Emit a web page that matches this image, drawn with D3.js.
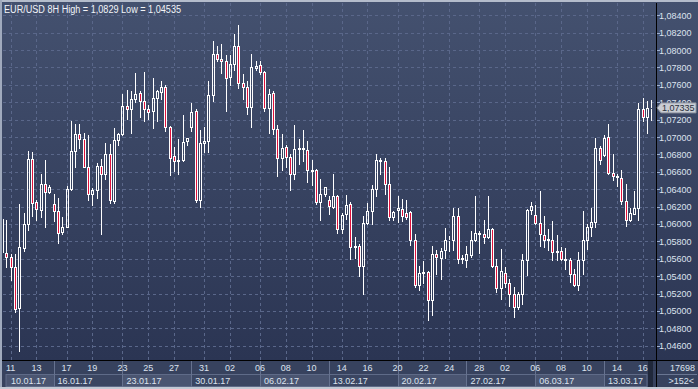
<!DOCTYPE html>
<html>
<head>
<meta charset="utf-8">
<script src="https://cdn.jsdelivr.net/npm/d3@7"></script>
<style>
body { margin: 0; background: #2f3a57; }
svg { display: block; font-family: "Liberation Sans", Arial, sans-serif; }
</style>
</head>
<body>
<script>
/*
EUR/USD 8H candles, 10.01.17 - 16.03.17
*/
var opens = [
  1.0568, 1.0567, 1.0562, 1.0550, 1.0503, 1.0572, 1.0600, 1.0675, 1.0625, 1.0616, 1.0646, 1.0637,
  1.0623, 1.0615, 1.0591, 1.0597, 1.0640, 1.0684, 1.0704, 1.0698, 1.0666, 1.0635, 1.0639, 1.0667, 1.0658, 1.0681, 1.0626, 1.0697,
  1.0703, 1.0736, 1.0732, 1.0744, 1.0751, 1.0742, 1.0732, 1.0730, 1.0745, 1.0752, 1.0757, 1.0712, 1.0678, 1.0673, 1.0674, 1.0695,
  1.0711, 1.0730, 1.0628, 1.0693, 1.0696, 1.0748, 1.0795, 1.0790, 1.0787, 1.0769, 1.0784, 1.0805, 1.0762, 1.0758, 1.0735, 1.0779,
  1.0783, 1.0775, 1.0733, 1.0751, 1.0709, 1.0676, 1.0688, 1.0677, 1.0658, 1.0686, 1.0687, 1.0685, 1.0662, 1.0662, 1.0625, 1.0635,
  1.0628, 1.0620, 1.0632, 1.0594, 1.0611, 1.0623, 1.0574, 1.0575, 1.0552, 1.0601, 1.0615, 1.0640, 1.0674, 1.0673, 1.0646, 1.0608,
  1.0616, 1.0617, 1.0613, 1.0614, 1.0581, 1.0530, 1.0544, 1.0545, 1.0512, 1.0566, 1.0561, 1.0570, 1.0581, 1.0582, 1.0609, 1.0560,
  1.0559, 1.0564, 1.0581, 1.0588, 1.0588, 1.0585, 1.0594, 1.0552, 1.0526, 1.0544, 1.0532, 1.0519, 1.0505, 1.0519, 1.0558, 1.0616,
  1.0610, 1.0601, 1.0587, 1.0582, 1.0582, 1.0568, 1.0569, 1.0560, 1.0558, 1.0543, 1.0530, 1.0558, 1.0582, 1.0596, 1.0602, 1.0687,
  1.0679, 1.0700, 1.0659, 1.0655, 1.0653, 1.0626, 1.0605, 1.0612, 1.0618, 1.0732, 1.0723, 1.0733
];
var highs = [
  1.0612, 1.0605, 1.0566, 1.0566, 1.0623, 1.0613, 1.0684, 1.0683, 1.0628, 1.0658, 1.0674, 1.0645,
  1.0635, 1.0630, 1.0608, 1.0644, 1.0719, 1.0715, 1.0715, 1.0705, 1.0702, 1.0641, 1.0670, 1.0675, 1.0693, 1.0692, 1.0710, 1.0705,
  1.0750, 1.0754, 1.0753, 1.0774, 1.0753, 1.0775, 1.0737, 1.0768, 1.0754, 1.0765, 1.0760, 1.0713, 1.0688, 1.0698, 1.0725, 1.0699,
  1.0739, 1.0732, 1.0708, 1.0712, 1.0765, 1.0811, 1.0805, 1.0807, 1.0794, 1.0794, 1.0819, 1.0829, 1.0773, 1.0765, 1.0796, 1.0787,
  1.0788, 1.0776, 1.0755, 1.0753, 1.0714, 1.0703, 1.0691, 1.0681, 1.0714, 1.0698, 1.0708, 1.0696, 1.0674, 1.0663, 1.0652, 1.0643,
  1.0632, 1.0658, 1.0633, 1.0613, 1.0633, 1.0625, 1.0585, 1.0577, 1.0609, 1.0624, 1.0645, 1.0680, 1.0676, 1.0676, 1.0666, 1.0615,
  1.0632, 1.0629, 1.0628, 1.0615, 1.0588, 1.0552, 1.0557, 1.0546, 1.0575, 1.0570, 1.0572, 1.0595, 1.0586, 1.0618, 1.0618, 1.0564,
  1.0575, 1.0592, 1.0632, 1.0592, 1.0605, 1.0632, 1.0595, 1.0560, 1.0571, 1.0550, 1.0537, 1.0527, 1.0522, 1.0565, 1.0617, 1.0625,
  1.0622, 1.0638, 1.0609, 1.0594, 1.0603, 1.0587, 1.0573, 1.0572, 1.0561, 1.0548, 1.0568, 1.0615, 1.0600, 1.0618, 1.0699, 1.0690,
  1.0702, 1.0715, 1.0680, 1.0658, 1.0662, 1.0646, 1.0618, 1.0638, 1.0739, 1.0745, 1.0742, 1.0743
];
var lows = [
  1.0563, 1.0551, 1.0535, 1.0499, 1.04535, 1.0569, 1.0593, 1.0609, 1.0604, 1.0608, 1.0596, 1.0636,
  1.0603, 1.0578, 1.0588, 1.0596, 1.0639, 1.0665, 1.0687, 1.0665, 1.0628, 1.0622, 1.0630, 1.0588, 1.0652, 1.0624, 1.0624, 1.0691,
  1.0702, 1.0721, 1.0705, 1.0740, 1.0723, 1.0719, 1.0721, 1.0710, 1.0719, 1.0744, 1.0707, 1.0656, 1.0661, 1.0657, 1.0673, 1.0691,
  1.0707, 1.0625, 1.0619, 1.0683, 1.0683, 1.0741, 1.0787, 1.0774, 1.0730, 1.0760, 1.0777, 1.0756, 1.0744, 1.0726, 1.0711, 1.0777,
  1.0773, 1.0730, 1.0705, 1.0703, 1.0655, 1.0662, 1.0666, 1.0639, 1.0652, 1.0669, 1.0672, 1.0648, 1.0645, 1.0623, 1.0605, 1.0632,
  1.0612, 1.0618, 1.0590, 1.0590, 1.0606, 1.0560, 1.0561, 1.0540, 1.0519, 1.0600, 1.0600, 1.0632, 1.0658, 1.0635, 1.0605, 1.0605,
  1.0602, 1.0603, 1.0606, 1.0576, 1.0528, 1.0524, 1.0532, 1.0490, 1.0495, 1.0543, 1.0537, 1.0561, 1.0569, 1.0570, 1.0555, 1.0555,
  1.0551, 1.0562, 1.0580, 1.0567, 1.0578, 1.0584, 1.0550, 1.0522, 1.0514, 1.0528, 1.0506, 1.0493, 1.0502, 1.0508, 1.0541, 1.0612,
  1.0600, 1.0575, 1.0574, 1.0570, 1.0558, 1.0559, 1.0558, 1.0548, 1.0533, 1.0529, 1.0524, 1.0543, 1.0571, 1.0586, 1.0597, 1.0669,
  1.0678, 1.0658, 1.0651, 1.0644, 1.0623, 1.0598, 1.0603, 1.0611, 1.0605, 1.0719, 1.0705, 1.0720
];
var closes = [
  1.0606, 1.0562, 1.0550, 1.0502, 1.0573, 1.0600, 1.0675, 1.0624, 1.0617, 1.0646, 1.0637, 1.0642,
  1.0615, 1.0590, 1.0597, 1.0640, 1.0684, 1.0704, 1.0698, 1.0666, 1.0635, 1.0639, 1.0667, 1.0658, 1.0681, 1.0627, 1.0697, 1.0703,
  1.0736, 1.0732, 1.0744, 1.0750, 1.0741, 1.0732, 1.0729, 1.0745, 1.0753, 1.0757, 1.0712, 1.0676, 1.0673, 1.0674, 1.0694, 1.0699,
  1.0729, 1.0628, 1.0693, 1.0696, 1.0748, 1.0796, 1.0790, 1.0787, 1.0768, 1.0784, 1.0805, 1.0762, 1.0758, 1.0735, 1.0780, 1.0782,
  1.0775, 1.0733, 1.0750, 1.0709, 1.0676, 1.0687, 1.0677, 1.0658, 1.0686, 1.0687, 1.0686, 1.0662, 1.0661, 1.0625, 1.0635, 1.0642,
  1.0621, 1.0632, 1.0594, 1.0610, 1.0622, 1.0574, 1.0575, 1.0552, 1.0601, 1.0615, 1.0640, 1.0674, 1.0673, 1.0646, 1.0608, 1.0614,
  1.0618, 1.0609, 1.0608, 1.0581, 1.0530, 1.0544, 1.0545, 1.0512, 1.0566, 1.0562, 1.0569, 1.0582, 1.0582, 1.0609, 1.0560, 1.0561,
  1.0566, 1.0582, 1.0590, 1.0590, 1.0585, 1.0594, 1.0552, 1.0526, 1.0546, 1.0532, 1.0519, 1.0505, 1.0519, 1.0558, 1.0616, 1.0621,
  1.0601, 1.0588, 1.0582, 1.0583, 1.0568, 1.0569, 1.0560, 1.0559, 1.0543, 1.0530, 1.0558, 1.0582, 1.0596, 1.0602, 1.0687, 1.0674,
  1.0699, 1.0659, 1.0655, 1.0654, 1.0626, 1.0604, 1.0613, 1.0618, 1.0732, 1.0723, 1.0733, 1.07335
];

// x axis: day labels (bar index where the day starts) and week labels
var dayLabels = ["11", "13", "17", "19", "23", "25", "27", "31", "02", "06", "08", "10",
                 "14", "16", "20", "22", "24", "28", "02", "06", "08", "10", "14", "16"];
var dayBars = [2, 8, 15, 21, 28, 34, 40, 47, 53, 60, 66, 72,
               79, 85, 92, 98, 104, 111, 117, 124, 130, 136, 143, 149];
var weekLabels = ["10.01.17", "16.01.17", "23.01.17", "30.01.17", "06.02.17",
                  "13.02.17", "20.02.17", "27.02.17", "06.03.17", "13.03.17"];
var weekBars = [-1, 12, 28, 44, 60, 76, 92, 108, 124, 140];

var yTicks = [1.046, 1.048, 1.050, 1.052, 1.054, 1.056, 1.058, 1.060, 1.062, 1.064,
              1.066, 1.068, 1.070, 1.072, 1.074, 1.076, 1.078, 1.080, 1.082, 1.084];

var title = "EUR/USD 8H High = 1,0829 Low = 1,04535";
var barCount = "17698";
var visibleBars = ">152<";

var width = 698,
    height = 389;
var plotLeft = 3, plotTop = 3, plotRight = 656, plotBottom = 360;

var svg = d3.select("body").append("svg")
    .attr("width", width)
    .attr("height", height);

var defs = svg.append("defs");
var grad = defs.append("linearGradient")
    .attr("id", "bg")
    .attr("x1", 0).attr("y1", 0).attr("x2", 0).attr("y2", 1);
grad.append("stop").attr("offset", "0%").attr("stop-color", "#44516f");
grad.append("stop").attr("offset", "100%").attr("stop-color", "#2b3553");

defs.append("clipPath").attr("id", "plotclip")
  .append("rect")
    .attr("x", plotLeft).attr("y", plotTop)
    .attr("width", plotRight - plotLeft).attr("height", plotBottom - plotTop);

var x = d3.scaleLinear()
    .domain([0, opens.length - 1])
    .range([2, 651.3]);

var y = d3.scaleLinear()
    .domain([1.046, 1.084])
    .range([345.7, 15.3]);

var fmt = function(v) { return d3.format(".5f")(v).replace(".", ","); };

// background
svg.append("rect")
    .attr("x", 0).attr("y", 0)
    .attr("width", width).attr("height", plotBottom)
    .attr("fill", "url(#bg)");

svg.append("rect")
    .attr("x", 0).attr("y", plotBottom)
    .attr("width", width).attr("height", height - plotBottom)
    .attr("fill", "#37425e");

// grid
var grid = svg.append("g").attr("stroke", "#5a678a").attr("stroke-dasharray", "3,3");

grid.selectAll("line.h")
    .data(yTicks)
    .enter().append("line")
    .attr("class", "h")
    .attr("x1", plotLeft).attr("x2", plotRight)
    .attr("y1", function(d) { return Math.round(y(d)) + 0.5; })
    .attr("y2", function(d) { return Math.round(y(d)) + 0.5; });

grid.selectAll("line.v")
    .data(dayBars)
    .enter().append("line")
    .attr("class", "v")
    .attr("y1", plotTop).attr("y2", plotBottom)
    .attr("x1", function(d) { return Math.round(x(d)) + 0.5; })
    .attr("x2", function(d) { return Math.round(x(d)) + 0.5; });

// candles
var candles = svg.append("g").attr("clip-path", "url(#plotclip)");

var bars = candles.selectAll("g")
    .data(opens.map(function(o, i) { return i; }))
    .enter().append("g");

bars.each(function(i) {
    var g = d3.select(this);
    var cx = Math.round(x(i));
    var o = opens[i], h = highs[i], l = lows[i], c = closes[i];
    var yTop = Math.round(y(Math.max(o, c)));
    var yBot = Math.round(y(Math.min(o, c)));
    var yHi = Math.round(y(h));
    var yLo = Math.round(y(l));

    if (yHi < yTop) {
        g.append("line")
            .attr("x1", cx + 0.5).attr("x2", cx + 0.5)
            .attr("y1", yHi).attr("y2", yTop)
            .attr("stroke", "#ffffff");
    }
    if (yLo > yBot) {
        g.append("line")
            .attr("x1", cx + 0.5).attr("x2", cx + 0.5)
            .attr("y1", yBot + 1).attr("y2", yLo + 1)
            .attr("stroke", "#ffffff");
    }
    g.append("rect")
        .attr("x", cx - 0.5)
        .attr("y", yTop + 0.5)
        .attr("width", 2)
        .attr("height", Math.max(0, yBot - yTop))
        .attr("fill", c < o ? "#e0123c" : "none")
        .attr("stroke", "#ffffff");
});

// axis lines
svg.append("line")
    .attr("x1", 0).attr("x2", width)
    .attr("y1", plotBottom + 0.5).attr("y2", plotBottom + 0.5)
    .attr("stroke", "#000");

svg.append("line")
    .attr("x1", plotRight + 0.5).attr("x2", plotRight + 0.5)
    .attr("y1", plotTop).attr("y2", height)
    .attr("stroke", "#000");

// y axis labels
var yAxis = svg.append("g");
yAxis.selectAll("line")
    .data(yTicks)
    .enter().append("line")
    .attr("x1", plotRight + 1).attr("x2", plotRight + 4)
    .attr("y1", function(d) { return Math.round(y(d)) + 0.5; })
    .attr("y2", function(d) { return Math.round(y(d)) + 0.5; })
    .attr("stroke", "#9fb0d0");

yAxis.selectAll("text")
    .data(yTicks)
    .enter().append("text")
    .attr("x", 659)
    .attr("y", function(d) { return y(d) + 3.5; })
    .attr("fill", "#dde3ef")
    .attr("font-size", "9px")
    .text(fmt);

// last price tag
var last = closes[closes.length - 1];
var ly = y(last);
svg.append("path")
    .attr("d", "M657," + ly + " L661," + (ly - 5) + " L696," + (ly - 5) + " L696," + (ly + 5) + " L661," + (ly + 5) + " Z")
    .attr("fill", "#c9cdd4")
    .attr("stroke", "#8d939e");
svg.append("text")
    .attr("x", 662)
    .attr("y", ly + 3.5)
    .attr("fill", "#2a2f3a")
    .attr("font-size", "9px")
    .text(fmt(last));

// x axis strip
var xAxis = svg.append("g");

xAxis.selectAll("rect")
    .data(weekBars)
    .enter().append("rect")
    .attr("x", function(d, i) { return i == 0 ? 6 : Math.round(x(d)) + 0.5; })
    .attr("y", 374.5)
    .attr("width", function(d, i) {
        var start = i == 0 ? 6 : Math.round(x(d)) + 0.5;
        var end = i < weekBars.length - 1 ? Math.round(x(weekBars[i + 1])) + 0.5 : 647;
        return end - start;
    })
    .attr("height", 12)
    .attr("fill", function(d, i) { return i % 2 == 0 ? "#4a5571" : "#3b4662"; })
    .attr("stroke", "#5f6b88");

xAxis.selectAll("line")
    .data(weekBars.slice(1))
    .enter().append("line")
    .attr("x1", function(d) { return Math.round(x(d)) + 0.5; })
    .attr("x2", function(d) { return Math.round(x(d)) + 0.5; })
    .attr("y1", plotBottom + 1).attr("y2", height - 2)
    .attr("stroke", "#66728f");

xAxis.selectAll("text.day")
    .data(dayBars)
    .enter().append("text")
    .attr("class", "day")
    .attr("x", function(d) { return x(d); })
    .attr("y", 371)
    .attr("text-anchor", "middle")
    .attr("fill", "#dde3ef")
    .attr("font-size", "9px")
    .text(function(d, i) { return dayLabels[i]; });

xAxis.selectAll("text.week")
    .data(weekBars)
    .enter().append("text")
    .attr("class", "week")
    .attr("x", function(d, i) { return i == 0 ? 11 : x(d) + 4; })
    .attr("y", 384)
    .attr("fill", "#dde3ef")
    .attr("font-size", "9px")
    .text(function(d, i) { return weekLabels[i]; });

// scroll marker near the right edge
svg.append("rect")
    .attr("x", 648).attr("y", plotBottom + 1)
    .attr("width", 5).attr("height", height - plotBottom - 3)
    .attr("fill", "#20283b");

// bottom right counters
svg.append("line")
    .attr("x1", plotRight + 1).attr("x2", width - 1)
    .attr("y1", 374.5).attr("y2", 374.5)
    .attr("stroke", "#6a7692");
svg.append("text")
    .attr("x", 695).attr("y", 371)
    .attr("text-anchor", "end")
    .attr("fill", "#dde3ef")
    .attr("font-size", "9px")
    .text(barCount);
svg.append("text")
    .attr("x", 694).attr("y", 384)
    .attr("text-anchor", "end")
    .attr("fill", "#dde3ef")
    .attr("font-size", "9px")
    .text(visibleBars);

// frame
svg.append("rect").attr("x", 0).attr("y", 0).attr("width", width).attr("height", 2).attr("fill", "#b4bccb");
svg.append("rect").attr("x", 0).attr("y", 0).attr("width", 2).attr("height", height).attr("fill", "#a0aabd");
svg.append("rect").attr("x", 0).attr("y", height - 2).attr("width", width).attr("height", 2).attr("fill", "#c3c9d4");

// title
svg.append("text")
    .attr("x", 4)
    .attr("y", 12.5)
    .attr("fill", "#f2f4f8")
    .attr("font-size", "10px")
    .attr("textLength", 177)
    .attr("lengthAdjust", "spacingAndGlyphs")
    .text(title);
</script>
</body>
</html>
